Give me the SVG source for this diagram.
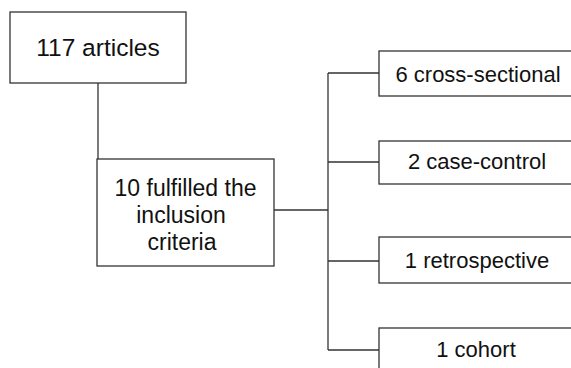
<svg xmlns="http://www.w3.org/2000/svg" width="571" height="368" viewBox="0 0 571 368">
<style>
.box{fill:#fff;stroke:#333;stroke-width:1.3}
.t{font-family:"Liberation Sans",Arial,sans-serif;fill:#111;text-anchor:middle}
.c{fill:none;stroke:#333;stroke-width:1.3}
</style>
<rect width="571" height="368" fill="#fff"/>
<g id="connectors">
<path class="c" d="M98 83V159"/>
<path class="c" d="M274 210H328"/>
<path class="c" d="M328 73V350"/>
<path class="c" d="M328 73H379M328 162H379M328 261H379M328 350H379"/>
</g>
<g id="n1"><rect class="box" x="10" y="12" width="176" height="71"/><text class="t" x="98" y="55.5" font-size="24.5">117 articles</text></g>
<g id="n2"><rect class="box" x="97" y="159" width="177" height="107"/><text class="t" font-size="23"><tspan x="185.5" y="196">10 fulfilled the</tspan><tspan x="181" y="223">inclusion</tspan><tspan x="182" y="250">criteria</tspan></text></g>
<g id="n3"><rect class="box" x="379" y="51" width="200" height="45"/><text class="t" x="478" y="82" font-size="22">6 cross-sectional</text></g>
<g id="n4"><rect class="box" x="379" y="141" width="200" height="43"/><text class="t" x="477" y="169" font-size="22">2 case-control</text></g>
<g id="n5"><rect class="box" x="379" y="237" width="200" height="46"/><text class="t" x="477" y="268" font-size="22">1 retrospective</text></g>
<g id="n6"><rect class="box" x="379" y="328" width="200" height="50"/><text class="t" x="476" y="357" font-size="22">1 cohort</text></g>
</svg>
